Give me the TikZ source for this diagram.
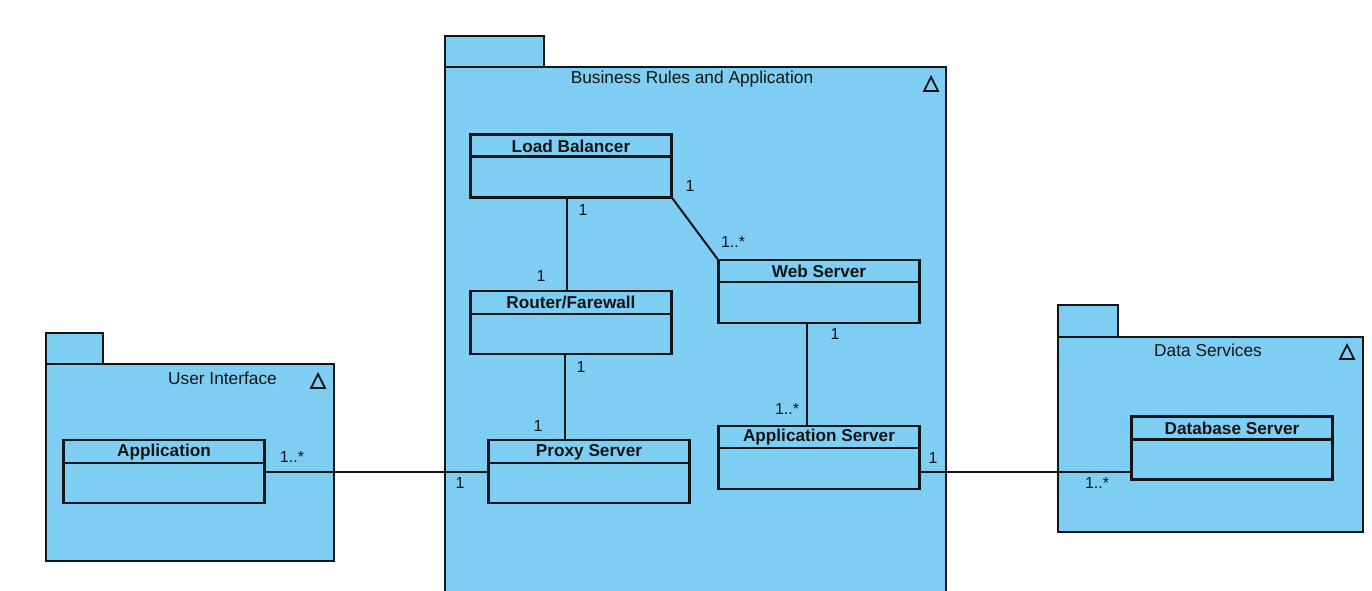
\documentclass[tikz,border=0pt]{standalone}
\usepackage{fontspec}
\setmainfont{Liberation Sans}
\usetikzlibrary{calc}
\definecolor{pkgblue}{RGB}{126,205,243}
\definecolor{ink}{RGB}{20,20,20}
\tikzset{
  pkg/.style={draw=ink, fill=pkgblue, line width=2.2pt},
  cls/.style={draw=ink, fill=pkgblue, line width=2.2pt, rectangle, inner sep=0pt, minimum width=201pt, minimum height=63pt},
  clsname/.style={font=\fontsize{17.2}{19}\selectfont\bfseries, text=ink, inner sep=0pt},
  pkgname/.style={font=\fontsize{17.3}{19}\selectfont, text=ink, inner sep=0pt},
  mult/.style={font=\fontsize{16}{18}\selectfont, text=ink, inner sep=0pt},
  conn/.style={draw=ink, line width=2pt},
  tri/.style={draw=ink, line width=1.8pt, line join=miter}
}
\newcommand{\umlcls}[5]{% name, x, y (center), title, header height
  \node[cls] (#1) at (#2,#3) {};
  \draw[ink, line width=2.2pt] ([yshift=-#5pt]#1.north west) -- ([yshift=-#5pt]#1.north east);
  \node[clsname] at ([yshift=-#5pt/2-1pt]#1.north) {#4};
}
\begin{document}
\begin{tikzpicture}[x=1pt,y=-1pt]
\useasboundingbox (0,0) rectangle (1372,590);
\clip (0,0) rectangle (1372,590);
% Business package
\draw[pkg] (445,67) rectangle (544,36);
\draw[pkg] (445,600) -- (445,67) -- (946,67) -- (946,600);
\node[pkgname] (bpl) at (692,79) {Business Rules and Application};
\draw[tri] (924,91) -- (938,91) -- (931,77) -- cycle;
% User interface package
\draw[pkg] (46,364) rectangle (103,333);
\draw[pkg] (46,364) rectangle (334,561);
\node[pkgname, anchor=east] (uil) at (277,378) {User Interface};
\draw[tri] (311,388) -- (325,388) -- (318,374) -- cycle;
% Data services package
\draw[pkg] (1058,337) rectangle (1118,305);
\draw[pkg] (1058,337) rectangle (1363,532);
\node[pkgname] (dsl) at (1208,350) {Data Services};
\draw[tri] (1340,359) -- (1354,359) -- (1347,345) -- cycle;
% Classes
\umlcls{lb}{571}{166}{Load Balancer}{23}
\umlcls{rf}{571}{322.5}{Router/Farewall}{24}
\umlcls{px}{589}{471.5}{Proxy Server}{24}
\umlcls{ws}{819}{291.5}{Web Server}{23}
\umlcls{as}{819}{457.5}{Application Server}{23}
\umlcls{app}{164}{471.5}{Application}{24}
\umlcls{db}{1232}{448}{Database Server}{24}
% Connectors
\draw[conn] ([xshift=-4pt]lb.south) -- ([xshift=-4pt]lb.south |- rf.north);
\draw[conn] (lb.south east) -- (ws.north west);
\draw[conn] ([xshift=-6pt]rf.south) -- ([xshift=-6pt]rf.south |- px.north);
\draw[conn] ([xshift=-12pt]ws.south) -- ([xshift=-12pt]ws.south |- as.north);
\draw[conn] (app.east) -- (app.east -| px.west);
\draw[conn] ([yshift=-14.5pt]as.east) -- ([yshift=-14.5pt]as.east -| db.west);
% Multiplicities
\node[mult] at (583,210) {1};
\node[mult] at (541,276) {1};
\node[mult] at (690,186) {1};
\node[mult] at (733,242) {1..*};
\node[mult] at (581,367) {1};
\node[mult] at (538,426) {1};
\node[mult] at (835,334) {1};
\node[mult] at (787,409) {1..*};
\node[mult] at (292,457) {1..*};
\node[mult] at (460,483) {1};
\node[mult] at (933,458) {1};
\node[mult] at (1097,483) {1..*};
\end{tikzpicture}
\end{document}
